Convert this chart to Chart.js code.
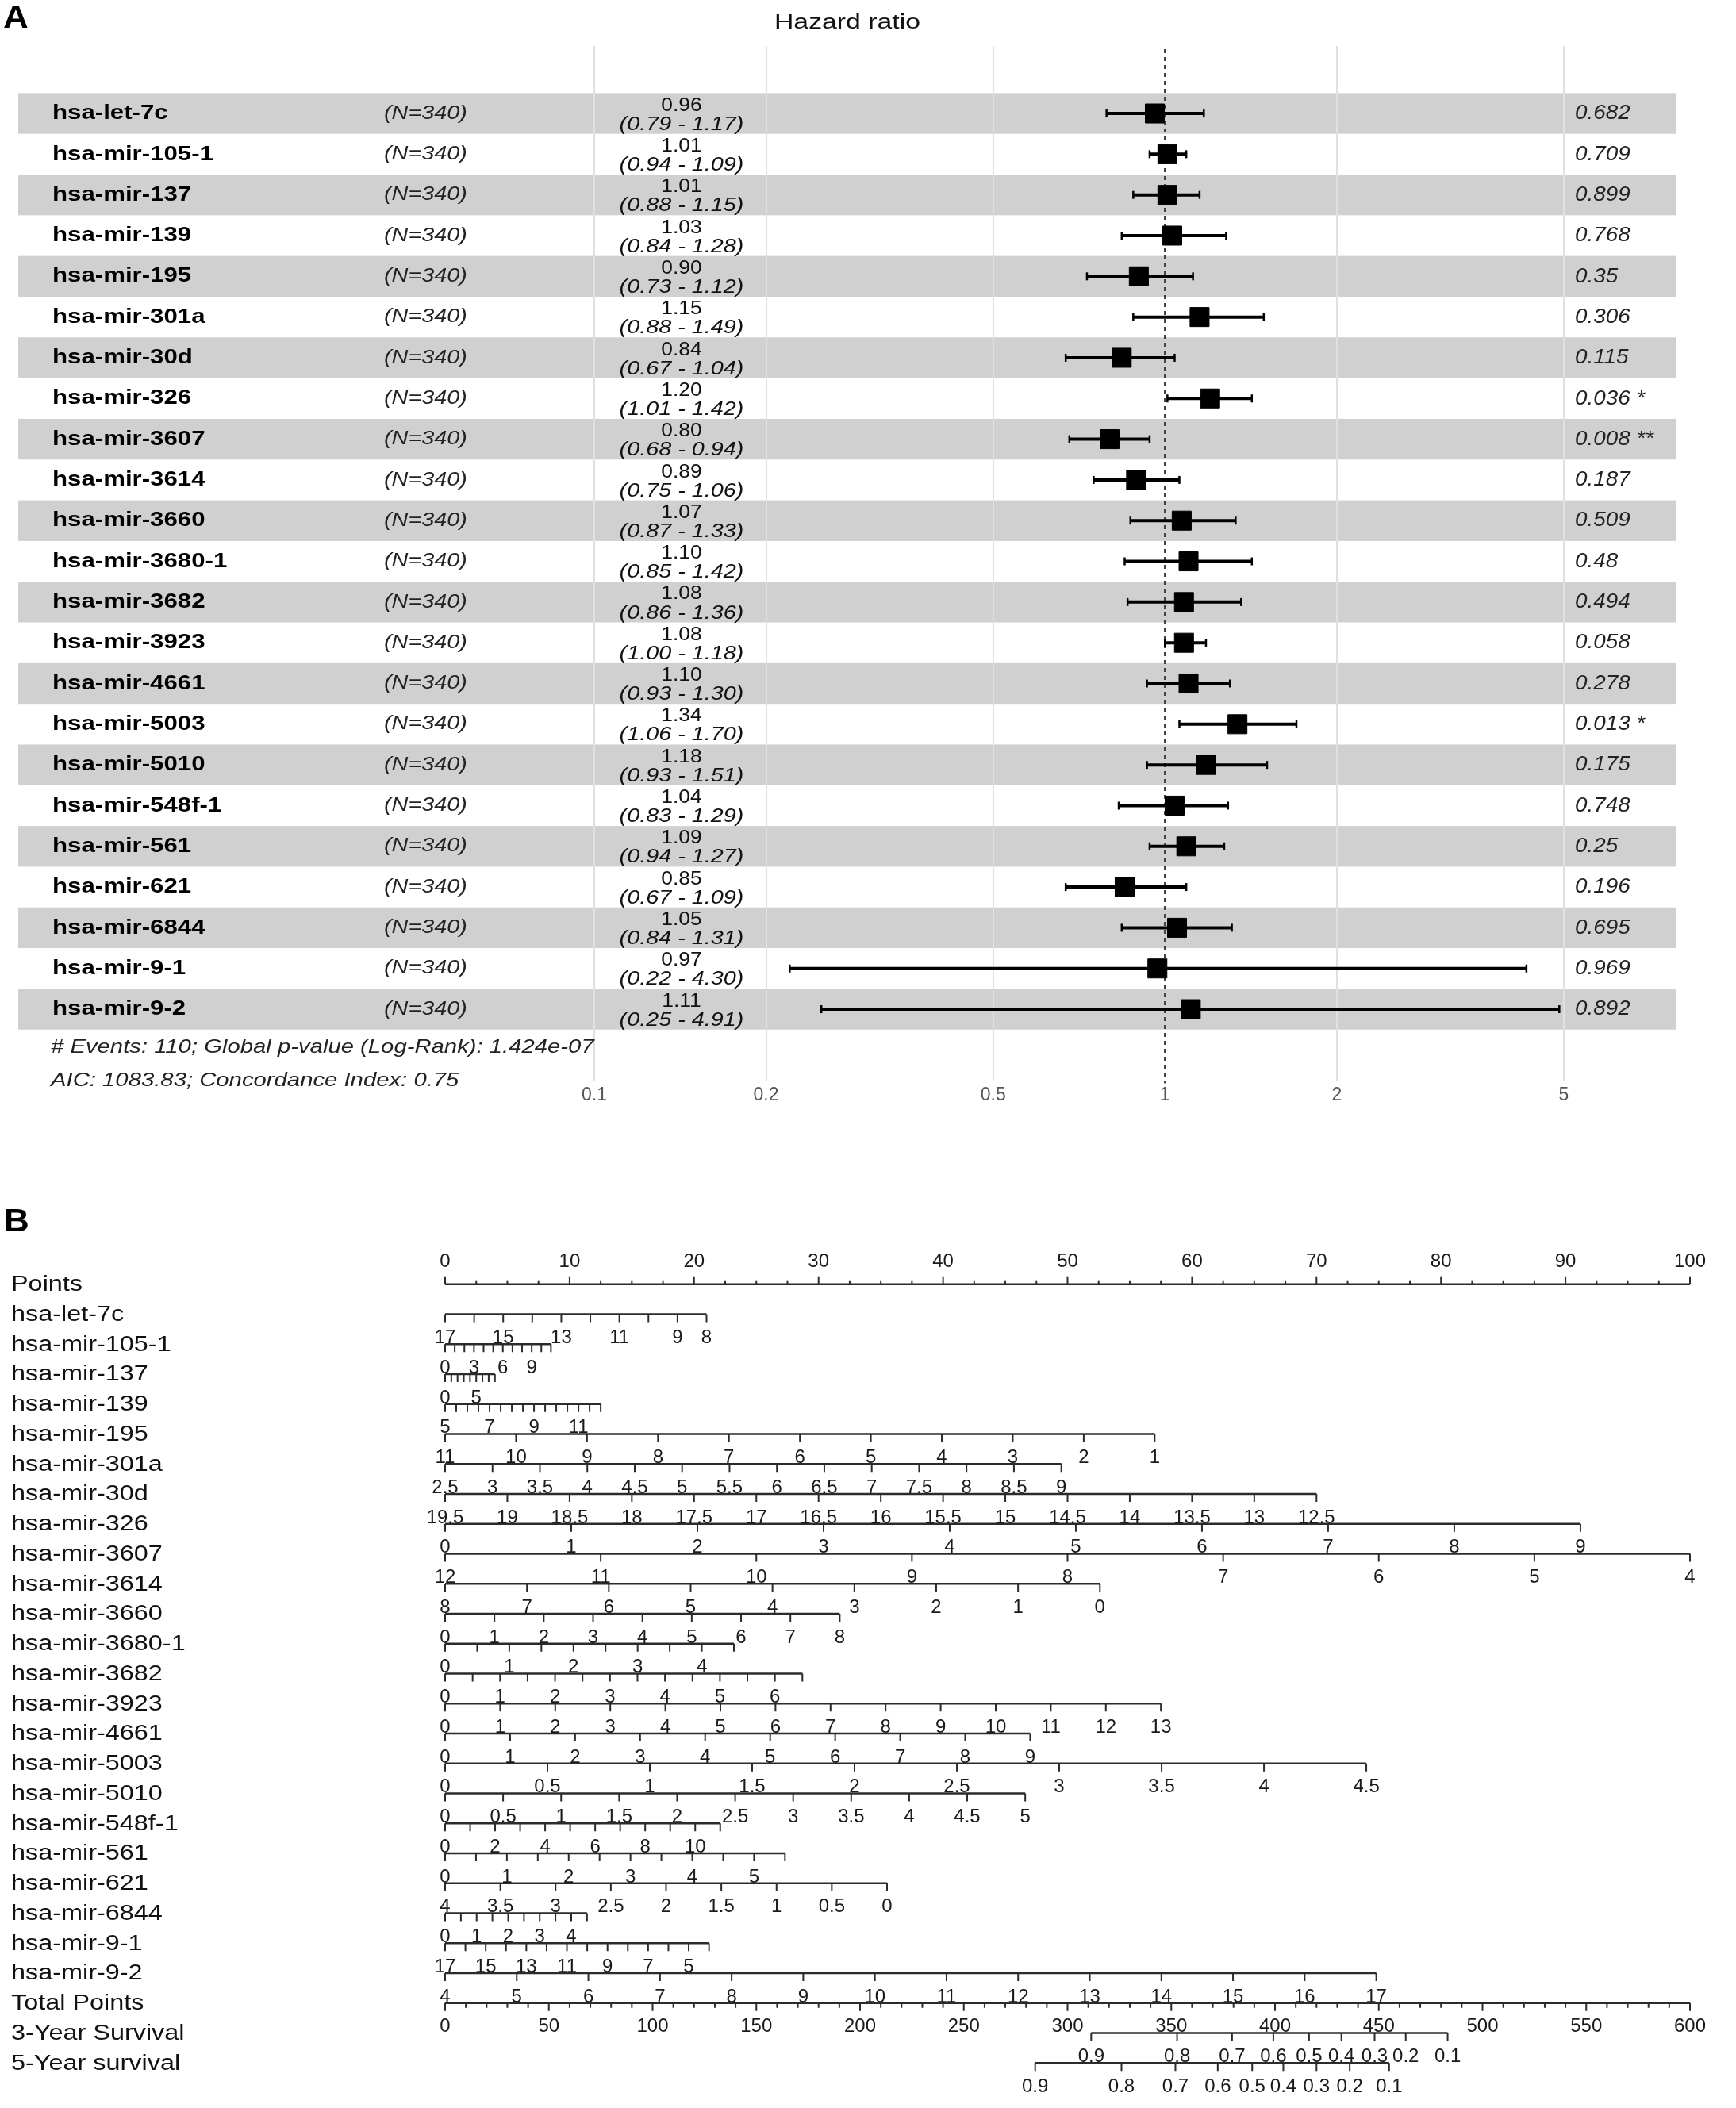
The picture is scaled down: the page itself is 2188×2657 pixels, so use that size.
<!DOCTYPE html>
<html>
<head>
<meta charset="utf-8">
<script src="https://cdn.jsdelivr.net/npm/chart.js@4.4.1/dist/chart.umd.min.js"></script>
<style>
  html, body { margin: 0; padding: 0; background: #fff; overflow: hidden; }
  #wrapA { position: absolute; left: 0; top: 0; width: 2188px; height: 1400px; }
  #wrapB { position: absolute; left: 0; top: 1400px; width: 2188px; height: 1257px; }
</style>
</head>
<body>
<div id="wrapA"><canvas id="forest" width="2188" height="1400"></canvas></div>
<div id="wrapB"><canvas id="nomo" width="2188" height="1257"></canvas></div>
<script>
// ---------- panel A : forest plot ----------
const mirNames = ['hsa-let-7c', 'hsa-mir-105-1', 'hsa-mir-137', 'hsa-mir-139', 'hsa-mir-195',
  'hsa-mir-301a', 'hsa-mir-30d', 'hsa-mir-326', 'hsa-mir-3607', 'hsa-mir-3614', 'hsa-mir-3660',
  'hsa-mir-3680-1', 'hsa-mir-3682', 'hsa-mir-3923', 'hsa-mir-4661', 'hsa-mir-5003', 'hsa-mir-5010',
  'hsa-mir-548f-1', 'hsa-mir-561', 'hsa-mir-621', 'hsa-mir-6844', 'hsa-mir-9-1', 'hsa-mir-9-2'];
const hrValues = [0.96, 1.01, 1.01, 1.03, 0.90, 1.15, 0.84, 1.20, 0.80, 0.89, 1.07, 1.10,
  1.08, 1.08, 1.10, 1.34, 1.18, 1.04, 1.09, 0.85, 1.05, 0.97, 1.11];
const hrLower = [0.79, 0.94, 0.88, 0.84, 0.73, 0.88, 0.67, 1.01, 0.68, 0.75, 0.87, 0.85,
  0.86, 1.00, 0.93, 1.06, 0.93, 0.83, 0.94, 0.67, 0.84, 0.22, 0.25];
const hrUpper = [1.17, 1.09, 1.15, 1.28, 1.12, 1.49, 1.04, 1.42, 0.94, 1.06, 1.33, 1.42,
  1.36, 1.18, 1.30, 1.70, 1.51, 1.29, 1.27, 1.09, 1.31, 4.30, 4.91];
const pLabels = ['0.682', '0.709', '0.899', '0.768', '0.35', '0.306', '0.115', '0.036 *',
  '0.008 **', '0.187', '0.509', '0.48', '0.494', '0.058', '0.278', '0.013 *', '0.175',
  '0.748', '0.25', '0.196', '0.695', '0.969', '0.892'];
const nPatients = 340;
const hrTicks = [0.1, 0.2, 0.5, 1, 2, 5];
const footerLines = ['# Events: 110; Global p-value (Log-Rank): 1.424e-07',
  'AIC: 1083.83; Concordance Index: 0.75'];

// ---------- panel B : nomogram ----------
const nomoRows = ['Points'].concat(mirNames, ['Total Points', '3-Year Survival', '5-Year survival']);
// value at 0 points, value at the end of the axis, points reached at the end, tick step
const varStart = [17, 0, 0, 5, 11, 2.5, 19.5, 0, 12, 8, 0, 0, 0, 0, 0, 0, 0, 0, 0, 4, 0, 17, 4];
const varEnd = [8, 11, 8, 12, 1, 9, 12.5, 9, 4, 0, 8, 4.5, 6.5, 13, 9, 4.5, 5, 11, 5.5, 0, 4.5, 4, 17];
const varEndPoints = [21.0, 8.5, 4.0, 12.5, 57.0, 49.5, 70.0, 91.2, 100, 52.6, 31.7, 23.2, 28.7,
  57.5, 47.0, 74.0, 46.6, 22.1, 27.3, 35.5, 11.4, 21.2, 74.8];
const varStep = [1, 1, 1, 0.5, 1, 0.5, 0.5, 1, 1, 1, 1, 0.5, 0.5, 1, 1, 0.5, 0.5, 1, 0.5, 0.5, 0.5, 1, 1];
const varLabels = [
  [17, 15, 13, 11, 9, 8],
  [0, 3, 6, 9],
  [0, 5],
  [5, 7, 9, 11],
  [11, 10, 9, 8, 7, 6, 5, 4, 3, 2, 1],
  [2.5, 3, 3.5, 4, 4.5, 5, 5.5, 6, 6.5, 7, 7.5, 8, 8.5, 9],
  [19.5, 19, 18.5, 18, 17.5, 17, 16.5, 16, 15.5, 15, 14.5, 14, 13.5, 13, 12.5],
  [0, 1, 2, 3, 4, 5, 6, 7, 8, 9],
  [12, 11, 10, 9, 8, 7, 6, 5, 4],
  [8, 7, 6, 5, 4, 3, 2, 1, 0],
  [0, 1, 2, 3, 4, 5, 6, 7, 8],
  [0, 1, 2, 3, 4],
  [0, 1, 2, 3, 4, 5, 6],
  [0, 1, 2, 3, 4, 5, 6, 7, 8, 9, 10, 11, 12, 13],
  [0, 1, 2, 3, 4, 5, 6, 7, 8, 9],
  [0, 0.5, 1, 1.5, 2, 2.5, 3, 3.5, 4, 4.5],
  [0, 0.5, 1, 1.5, 2, 2.5, 3, 3.5, 4, 4.5, 5],
  [0, 2, 4, 6, 8, 10],
  [0, 1, 2, 3, 4, 5],
  [4, 3.5, 3, 2.5, 2, 1.5, 1, 0.5, 0],
  [0, 1, 2, 3, 4],
  [17, 15, 13, 11, 9, 7, 5],
  [4, 5, 6, 7, 8, 9, 10, 11, 12, 13, 14, 15, 16, 17]
];
const pointsLabels = [0, 10, 20, 30, 40, 50, 60, 70, 80, 90, 100];
const totalLabels = [0, 50, 100, 150, 200, 250, 300, 350, 400, 450, 500, 550, 600];
const survLabels = ['0.9', '0.8', '0.7', '0.6', '0.5', '0.4', '0.3', '0.2', '0.1'];
const surv3Total = [311.4, 352.8, 379.3, 399.2, 416.4, 432, 448, 463, 483.2];
const surv5Total = [284.4, 326, 352, 372.4, 389, 404, 420, 436, 455];

const FONT = '"Liberation Sans", Arial, sans-serif';

function drawText(ctx, str, x, y, font, color, align, sx) {
  ctx.save();
  ctx.font = font;
  ctx.fillStyle = color;
  ctx.textAlign = align;
  ctx.textBaseline = 'middle';
  ctx.translate(x, y);
  ctx.scale(sx, 1);
  ctx.fillText(str, 0, 0);
  ctx.restore();
}

function vline(ctx, x, y0, y1) {
  ctx.beginPath();
  ctx.moveTo(x, y0);
  ctx.lineTo(x, y1);
  ctx.stroke();
}

// bands, reference line, CI bars and text columns of the forest plot
const forestDeco = {
  id: 'forestDeco',
  beforeDraw(chart) {
    const { ctx, scales: { y } } = chart;
    ctx.save();
    ctx.fillStyle = '#d0d0d0';
    mirNames.forEach((n, i) => {
      if (i % 2) return;
      const top = y.getPixelForValue(i - 0.5);
      const bot = y.getPixelForValue(i + 0.5);
      ctx.fillRect(23, top, 2090, bot - top);
    });
    ctx.restore();
  },
  beforeDatasetsDraw(chart) {
    const { ctx, chartArea, scales: { x, y } } = chart;
    ctx.save();
    // dotted line at HR = 1
    ctx.strokeStyle = '#444';
    ctx.lineWidth = 2.5;
    ctx.setLineDash([5, 5]);
    vline(ctx, x.getPixelForValue(1), chartArea.top + 4, chartArea.bottom + 2);
    ctx.setLineDash([]);

    // confidence intervals
    ctx.strokeStyle = '#000';
    mirNames.forEach((n, i) => {
      const yy = y.getPixelForValue(i);
      const a = x.getPixelForValue(hrLower[i]);
      const b = x.getPixelForValue(hrUpper[i]);
      ctx.lineWidth = 4;
      ctx.beginPath();
      ctx.moveTo(a, yy);
      ctx.lineTo(b, yy);
      ctx.stroke();
      ctx.lineWidth = 2.5;
      vline(ctx, a, yy - 5, yy + 5);
      vline(ctx, b, yy - 5, yy + 5);
    });

    // text columns
    mirNames.forEach((name, i) => {
      const yy = y.getPixelForValue(i);
      drawText(ctx, name, 66, yy, `bold 26px ${FONT}`, '#000', 'left', 1.2);
      drawText(ctx, `(N=${nPatients})`, 484, yy, `italic 24px ${FONT}`, '#222', 'left', 1.2);
      drawText(ctx, hrValues[i].toFixed(2), 859, yy - 10, `24px ${FONT}`, '#111', 'center', 1.1);
      drawText(ctx, `(${hrLower[i].toFixed(2)} - ${hrUpper[i].toFixed(2)})`, 859, yy + 14,
        `italic 24px ${FONT}`, '#111', 'center', 1.2);
      drawText(ctx, pLabels[i], 1985, yy, `italic 26px ${FONT}`, '#222', 'left', 1.07);
    });

    drawText(ctx, 'A', 4, 24, `bold 40px ${FONT}`, '#000', 'left', 1.1);
    drawText(ctx, 'Hazard ratio', 1068, 29, `26px ${FONT}`, '#111', 'center', 1.3);
    drawText(ctx, footerLines[0], 64, 1320, `italic 24px ${FONT}`, '#222', 'left', 1.22);
    drawText(ctx, footerLines[1], 64, 1362, `italic 24px ${FONT}`, '#222', 'left', 1.22);
    ctx.restore();
  }
};

new Chart(document.getElementById('forest'), {
  type: 'scatter',
  data: {
    datasets: [{
      data: hrValues.map((v, i) => ({ x: v, y: i })),
      pointStyle: 'rect',
      pointRadius: 17,
      pointHoverRadius: 17,
      backgroundColor: '#000',
      borderColor: '#000',
      borderWidth: 1
    }]
  },
  options: {
    responsive: false,
    animation: false,
    devicePixelRatio: 1,
    layout: { padding: { left: 749, right: 217, top: 58, bottom: 3 } },
    plugins: { legend: { display: false }, tooltip: { enabled: false } },
    scales: {
      x: {
        type: 'logarithmic',
        min: 0.1,
        max: 5,
        position: 'bottom',
        afterBuildTicks: axis => { axis.ticks = hrTicks.map(v => ({ value: v })); },
        grid: {
          color: c => (c.tick && c.tick.value === 1 ? 'rgba(0,0,0,0)' : '#e0e0e0'),
          lineWidth: 2,
          drawTicks: false
        },
        border: { display: false },
        ticks: {
          padding: 3,
          color: '#555',
          font: { family: FONT, size: 23 },
          callback: v => String(v)
        }
      },
      y: { type: 'linear', display: false, reverse: true, min: -1.657, max: 23.78 }
    }
  },
  plugins: [forestDeco]
});

// ---------- nomogram ----------
function varPoints(i, v) {
  return (v - varStart[i]) / (varEnd[i] - varStart[i]) * varEndPoints[i];
}

const lineStyle = { showLine: true, pointRadius: 0, borderColor: '#2b2b2b', borderWidth: 2.5, fill: false };
const nomoLines = [Object.assign({ xAxisID: 'x', data: [{ x: 0, y: 0 }, { x: 100, y: 0 }] }, lineStyle)];
varStart.forEach((s, i) => {
  nomoLines.push(Object.assign({ xAxisID: 'x', data: [{ x: 0, y: i + 1 }, { x: varEndPoints[i], y: i + 1 }] }, lineStyle));
});
const kTotal = varStart.length + 1;
nomoLines.push(Object.assign({ xAxisID: 'xt', data: [{ x: totalLabels[0], y: kTotal }, { x: totalLabels[totalLabels.length - 1], y: kTotal }] }, lineStyle));
nomoLines.push(Object.assign({ xAxisID: 'xt', data: [{ x: surv3Total[0], y: kTotal + 1 }, { x: surv3Total[surv3Total.length - 1], y: kTotal + 1 }] }, lineStyle));
nomoLines.push(Object.assign({ xAxisID: 'xt', data: [{ x: surv5Total[0], y: kTotal + 2 }, { x: surv5Total[surv5Total.length - 1], y: kTotal + 2 }] }, lineStyle));

const numFont = `24px ${FONT}`;
const numColor = '#1a1a1a';

const nomoDeco = {
  id: 'nomoDeco',
  afterDatasetsDraw(chart) {
    const { ctx, scales: { x, xt, y } } = chart;
    ctx.save();
    ctx.strokeStyle = '#2b2b2b';
    ctx.lineWidth = 2;

    drawText(ctx, 'B', 5, 141, `bold 40px ${FONT}`, '#000', 'left', 1.1);
    nomoRows.forEach((n, k) => {
      drawText(ctx, n, 14, y.getPixelForValue(k) + 1, `27px ${FONT}`, '#111', 'left', 1.2);
    });

    // Points axis: ticks up, labels above
    const y0 = y.getPixelForValue(0);
    for (let j = 0; j <= 40; j++) {
      const v = j * 2.5;
      const major = pointsLabels.includes(v);
      vline(ctx, x.getPixelForValue(v), y0, y0 - (major ? 10 : 5));
    }
    pointsLabels.forEach(v => drawText(ctx, String(v), x.getPixelForValue(v), y0 - 28, numFont, numColor, 'center', 1));

    // variable axes: ticks down, labels below
    varStart.forEach((s, i) => {
      const yy = y.getPixelForValue(i + 1);
      const dir = varEnd[i] > s ? 1 : -1;
      const n = Math.round(Math.abs(varEnd[i] - s) / varStep[i]);
      for (let j = 0; j <= n; j++) {
        const v = s + dir * j * varStep[i];
        vline(ctx, x.getPixelForValue(varPoints(i, v)), yy, yy + 10);
      }
      varLabels[i].forEach(v => {
        drawText(ctx, String(v), x.getPixelForValue(varPoints(i, v)), yy + 30, numFont, numColor, 'center', 1);
      });
    });

    // total points
    const yT = y.getPixelForValue(kTotal);
    for (let v = 0; v <= 600; v += 10) {
      const major = totalLabels.includes(v);
      vline(ctx, xt.getPixelForValue(v), yT, yT + (major ? 10 : 6));
    }
    totalLabels.forEach(v => drawText(ctx, String(v), xt.getPixelForValue(v), yT + 30, numFont, numColor, 'center', 1));

    // survival probabilities
    [surv3Total, surv5Total].forEach((pos, r) => {
      const yy = y.getPixelForValue(kTotal + 1 + r);
      pos.forEach((p, j) => {
        const px = xt.getPixelForValue(p);
        vline(ctx, px, yy, yy + 10);
        drawText(ctx, survLabels[j], px, yy + 30, numFont, numColor, 'center', 1);
      });
    });
    ctx.restore();
  }
};

new Chart(document.getElementById('nomo'), {
  type: 'scatter',
  data: { datasets: nomoLines },
  options: {
    responsive: false,
    animation: false,
    devicePixelRatio: 1,
    layout: { padding: { left: 561, right: 58, top: 181, bottom: 19 } },
    plugins: { legend: { display: false }, tooltip: { enabled: false } },
    scales: {
      x: { type: 'linear', axis: 'x', display: false, min: 0, max: 100 },
      xt: { type: 'linear', axis: 'x', display: false, min: 0, max: 600 },
      y: { type: 'linear', display: false, reverse: true, min: -1, max: 27 }
    }
  },
  plugins: [nomoDeco]
});
</script>
</body>
</html>
